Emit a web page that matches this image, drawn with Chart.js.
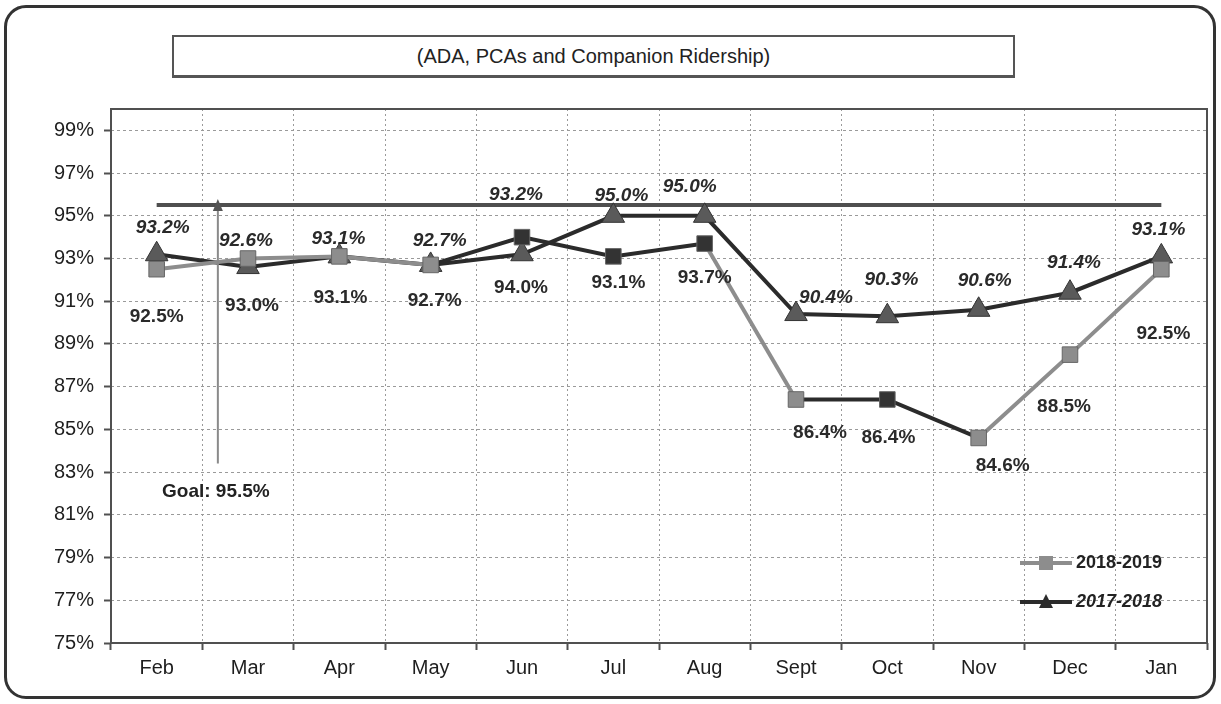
<!DOCTYPE html>
<html>
<head>
<meta charset="utf-8">
<script src="https://cdn.jsdelivr.net/npm/chart.js@4.4.1/dist/chart.umd.min.js"></script>
<style>
    body { margin: 0; background: #fff; font-family: "Liberation Sans", Arial, sans-serif; }
    #wrap { position: relative; width: 1221px; height: 704px; overflow: hidden; }
    #frame {
        position: absolute; left: 4px; top: 5px; width: 1212px; height: 694px;
        box-sizing: border-box; border: 3px solid #333; border-radius: 22px;
    }
    #titleBox {
        position: absolute; left: 172px; top: 35px; width: 843px; height: 43px;
        box-sizing: border-box; border: 2px solid #555; border-bottom-width: 3px;
        display: flex; align-items: center; justify-content: center;
        font-size: 20px; color: #222;
    }
    canvas { position: absolute; left: 0; top: 0; }
</style>
</head>
<body>
<div id="wrap">
    <div id="frame"></div>
    <div id="titleBox">(ADA, PCAs and Companion Ridership)</div>
    <canvas id="ridershipChart" width="1221" height="704"></canvas>
</div>
<script>
// 데이터
const months = ['Feb', 'Mar', 'Apr', 'May', 'Jun', 'Jul', 'Aug', 'Sept', 'Oct', 'Nov', 'Dec', 'Jan'];
const series1819 = [92.5, 93.0, 93.1, 92.7, 94.0, 93.1, 93.7, 86.4, 86.4, 84.6, 88.5, 92.5];
const series1718 = [93.2, 92.6, 93.1, 92.7, 93.2, 95.0, 95.0, 90.4, 90.3, 90.6, 91.4, 93.1];
const goalLine = [95.5, 95.5, 95.5, 95.5, 95.5, 95.5, 95.5, 95.5, 95.5, 95.5, 95.5, 95.5];
const goalValue = 95.5;
const yTicks = [75, 77, 79, 81, 83, 85, 87, 89, 91, 93, 95, 97, 99];

// 라벨 위치 보정 (px)
const offsets1819 = [[0, 48], [4, 47], [1, 41], [4, 36], [-1, 51], [5, 26], [0, 34], [24, 33], [1, 38], [24, 28], [-6, 52], [2, 65]];
const offsets1718 = [[6, -26], [-2, -26], [-1, -18], [9, -24], [-6, -59], [8, -20], [-15, -29], [30, -16], [4, -36], [6, -29], [4, -30], [-3, -27]];

// 스캔본처럼 일부 구간/점은 진하게
const darkPoints = [4, 5, 6, 8];
const darkSegments = [3, 4, 5, 7, 8];

const GRAY = '#8d8d8d';
const DARK = '#2b2b2b';
const FONT = '"Liberation Sans", Arial, sans-serif';

/**
 * 라벨, 목표 화살표, 범례, 테두리 그리기
 */
const overlayPlugin = {
    id: 'overlay',
    beforeDatasetsDraw(chart) {
        const { ctx, chartArea: a } = chart;
        ctx.save();
        ctx.strokeStyle = '#505050';
        ctx.lineWidth = 2;
        ctx.strokeRect(a.left, a.top, a.right - a.left, a.bottom - a.top);
        ctx.restore();
    },
    afterDatasetsDraw(chart) {
        const { ctx } = chart;
        const x = chart.scales.x;
        const y = chart.scales.y;
        ctx.save();

        // 목표 화살표
        const gx = x.getPixelForValue(0.67);
        const gTop = y.getPixelForValue(goalValue);
        const gBottom = y.getPixelForValue(83.4);
        ctx.strokeStyle = '#8a8a8a';
        ctx.lineWidth = 2;
        ctx.beginPath();
        ctx.moveTo(gx, gTop);
        ctx.lineTo(gx, gBottom);
        ctx.stroke();
        ctx.fillStyle = '#555';
        ctx.beginPath();
        ctx.moveTo(gx, gTop - 6);
        ctx.lineTo(gx - 5, gTop + 6);
        ctx.lineTo(gx + 5, gTop + 6);
        ctx.closePath();
        ctx.fill();
        ctx.fillStyle = '#222';
        ctx.font = 'bold 19px ' + FONT;
        ctx.textAlign = 'center';
        ctx.textBaseline = 'middle';
        ctx.fillText('Goal: ' + goalValue.toFixed(1) + '%', gx - 2, y.getPixelForValue(82.1));

        // 데이터 라벨
        const drawLabels = (datasetIndex, values, offs, font) => {
            const meta = chart.getDatasetMeta(datasetIndex);
            ctx.font = font;
            values.forEach((v, i) => {
                const p = meta.data[i];
                ctx.fillText(v.toFixed(1) + '%', p.x + offs[i][0], p.y + offs[i][1]);
            });
        };
        ctx.fillStyle = '#2a2a2a';
        drawLabels(0, series1819, offsets1819, 'bold 19px ' + FONT);
        drawLabels(1, series1718, offsets1718, 'italic bold 19px ' + FONT);

        // 범례
        const lx = 1020;
        const rows = [
            { y: 563, color: GRAY, style: 'rect', text: '2018-2019', font: 'bold 18px ' + FONT },
            { y: 602, color: DARK, style: 'triangle', text: '2017-2018', font: 'italic bold 18px ' + FONT }
        ];
        rows.forEach(r => {
            ctx.strokeStyle = r.color;
            ctx.lineWidth = 4;
            ctx.beginPath();
            ctx.moveTo(lx, r.y);
            ctx.lineTo(lx + 52, r.y);
            ctx.stroke();
            ctx.fillStyle = r.color;
            if (r.style === 'rect') {
                ctx.fillRect(lx + 19, r.y - 7, 14, 14);
            } else {
                ctx.beginPath();
                ctx.moveTo(lx + 26, r.y - 8);
                ctx.lineTo(lx + 19, r.y + 6);
                ctx.lineTo(lx + 33, r.y + 6);
                ctx.closePath();
                ctx.fill();
            }
            ctx.fillStyle = '#222';
            ctx.font = r.font;
            ctx.textAlign = 'left';
            ctx.fillText(r.text, lx + 56, r.y);
        });
        ctx.restore();
    }
};

/**
 * 차트 생성
 */
function createChart() {
    const ctx = document.getElementById('ridershipChart').getContext('2d');

    new Chart(ctx, {
        type: 'line',
        data: {
            labels: months,
            datasets: [
                {
                    label: '2018-2019',
                    data: series1819,
                    borderColor: GRAY,
                    borderWidth: 4,
                    pointStyle: 'rect',
                    pointRadius: 11,
                    pointBackgroundColor: months.map((m, i) => darkPoints.includes(i) ? '#333' : GRAY),
                    pointBorderColor: '#666',
                    pointBorderWidth: 1,
                    segment: {
                        borderColor: c => darkSegments.includes(c.p0DataIndex) ? DARK : GRAY
                    },
                    order: 1
                },
                {
                    label: '2017-2018',
                    data: series1718,
                    borderColor: DARK,
                    borderWidth: 4,
                    pointStyle: 'triangle',
                    pointRadius: 13,
                    pointBackgroundColor: '#5a5a5a',
                    pointBorderColor: '#333',
                    pointBorderWidth: 1,
                    order: 2
                },
                {
                    label: 'Goal',
                    data: goalLine,
                    borderColor: '#4f4f4f',
                    borderWidth: 4,
                    pointRadius: 0,
                    order: 3
                }
            ]
        },
        options: {
            responsive: false,
            animation: false,
            devicePixelRatio: 1,
            layout: { padding: { top: 109, right: 13, left: 0, bottom: 0 } },
            plugins: {
                legend: { display: false },
                tooltip: { enabled: false }
            },
            scales: {
                x: {
                    offset: true,
                    afterFit: s => { s.height = 61; },
                    grid: {
                        offset: true,
                        color: '#9a9a9a',
                        tickLength: 7,
                        tickColor: '#505050',
                        tickWidth: 2,
                        tickBorderDash: []
                    },
                    border: { display: false, dash: [2, 3] },
                    ticks: {
                        color: '#1e1e1e',
                        padding: 6,
                        font: { family: FONT, size: 20 }
                    }
                },
                y: {
                    min: 75,
                    max: 100,
                    afterFit: s => { s.width = 111; },
                    afterBuildTicks: s => { s.ticks = yTicks.map(v => ({ value: v })); },
                    grid: {
                        color: '#9a9a9a',
                        tickLength: 7,
                        tickColor: '#505050',
                        tickWidth: 2,
                        tickBorderDash: []
                    },
                    border: { display: false, dash: [3, 3] },
                    ticks: {
                        color: '#1e1e1e',
                        padding: 10,
                        font: { family: FONT, size: 20 },
                        callback: v => v + '%'
                    }
                }
            }
        },
        plugins: [overlayPlugin]
    });
}

document.addEventListener('DOMContentLoaded', createChart);
</script>
</body>
</html>
